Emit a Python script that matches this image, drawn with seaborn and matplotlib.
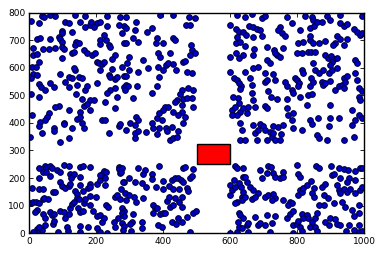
import matplotlib
matplotlib.use("Agg")
import matplotlib.pyplot as plt
from matplotlib.patches import Rectangle
import seaborn as sns
import pandas as pd

# ---- data (x in 0..1000, y in 0..800) ----
upper_left = [
    (37,787),(45,785),(62,791),(77,789),(137,791),(167,789),(232,787),(272,785),
    (4,771),(30,761),(107,767),(119,761),(152,765),(180,755),(184,765),(202,763),(210,765),(232,751),(267,755),(283,751),
    (97,734),(97,725),(127,729),(167,749),(192,747),(222,719),(277,725),
    (24,703),(32,707),(62,703),(87,710),(92,703),(97,695),(140,695),(212,701),(230,701),(283,689),
    (12,670),(40,667),(60,667),(77,670),(97,674),(102,667),(137,683),(147,689),(162,664),(212,686),(237,683),(242,676),
    (12,646),(22,650),(127,652),(132,658),(172,652),(187,646),(257,646),
    (30,619),(97,634),(197,652),(202,622),(207,616),(217,613),(222,622),(247,630),
    (7,602),(20,602),(137,592),(132,598),(212,590),(247,595),(277,604),
    (12,577),(22,574),(92,577),(117,568),(127,562),(147,565),(157,562),(237,574),(242,565),(257,558),(262,565),(282,570),
    (4,562),(30,541),(34,529),(62,544),(107,547),(117,529),(142,538),(167,519),(172,532),(202,544),(242,519),(257,525),(284,529),
    (4,505),(30,493),(47,519),(72,529),(140,505),(157,486),(182,483),(192,483),(232,510),(262,493),
    (87,461),(77,456),(162,461),(172,469),(227,477),
    (60,435),(52,423),(117,445),(152,441),(182,447),(257,453),
    (7,429),(32,405),(102,399),(142,413),(152,423),(217,411),(227,411),(267,387),(272,396),
    (30,387),(47,411),(72,381),(102,396),(127,381),(157,399),(162,381),
]
upper_middle = [
    (290,785),(318,767),(390,791),(428,791),(478,785),(495,782),(468,755),(480,755),
    (288,743),(315,737),(352,731),(365,743),(382,709),(378,689),(400,691),(428,707),(435,701),(310,707),(325,695),(288,689),
    (482,683),(485,664),(495,652),(480,646),
    (298,640),(340,628),(385,652),(420,655),(390,640),(408,610),(415,616),(428,613),(460,619),(465,625),(292,616),(298,592),
    (355,598),(385,604),(400,590),(438,590),(470,586),(485,582),
    (290,571),(325,586),(388,565),(290,538),(295,535),(322,535),(382,532),(285,519),(455,519),(475,525),(488,519),(365,507),(310,489),
    (450,505),(440,483),(460,486),(470,489),(485,489),(435,477),(455,465),(490,459),(405,459),(415,459),(400,447),(430,441),
    (455,441),(380,417),(388,435),(395,411),(445,429),(465,423),(460,399),(320,423),(325,411),(300,399),(315,393),(365,399),
    (370,381),(388,381),(408,381),(425,384),
    (620,791),(600,755),(618,740),(625,731),(638,731),(620,710),(618,689),(630,695),(600,640),(625,634),(618,652),(638,646),
    (600,586),(610,562),(620,556),(625,546),(632,532),(630,522),(608,495),(622,489),(605,447),(615,456),(625,471),(628,441),
    (620,429),(605,429),(630,399),
]
upper_right = [
    (644,785),(664,794),(694,779),(704,787),(769,785),(824,787),(844,785),(889,787),(929,791),(994,787),
    (657,751),(667,749),(681,740),(689,737),(647,719),(749,749),(744,737),(754,725),(764,716),(784,761),(809,737),(839,743),
    (849,751),(847,773),(859,767),(874,767),(897,773),(929,761),(939,751),(949,758),(969,740),(979,731),(987,719),(994,725),
    (669,713),(694,716),(644,679),(671,667),(709,676),(731,664),(739,646),(759,670),(804,689),(819,695),(839,701),(847,689),
    (839,716),(864,691),(884,698),(919,716),(927,704),(914,689),(907,683),(939,683),(949,704),
    (669,646),(709,628),(719,616),(734,655),(749,640),(799,655),(814,655),(834,658),(841,658),(854,658),(847,616),(884,646),
    (891,634),(901,643),(909,630),(919,637),(904,622),(897,610),(974,628),(979,616),
    (644,586),(669,598),(684,604),(704,580),(729,577),(764,550),(794,562),(799,556),(814,592),(819,580),(841,562),(854,590),
    (864,580),(877,592),(894,582),(904,590),(919,598),(939,562),(949,570),(974,580),(979,556),
    (659,562),(664,538),(704,550),(709,556),(734,556),(769,532),(784,519),(789,510),(807,544),(804,532),(809,495),(839,532),
    (847,550),(874,550),(877,538),(884,546),(899,553),(914,519),(924,532),(934,538),(939,525),(944,550),(984,525),(994,516),
    (664,507),(669,483),(714,516),(721,495),(739,486),(769,486),(834,501),(844,504),(984,495),(989,483),
    (639,453),(654,459),(674,456),(704,461),(709,453),(769,453),(774,429),(789,435),(829,465),(899,465),(964,447),(984,429),
    (994,417),(651,435),
    (669,393),(689,396),(699,387),(729,387),(744,384),(759,393),(784,411),(789,381),(839,409),(844,396),(861,417),(894,387),
    (897,417),(924,417),(964,393),(974,411),
]
lower_left = [
    (2,350),(37,365),(72,370),(90,332),(117,346),(237,365),
    (30,235),(47,245),(50,235),(62,245),(67,237),(102,247),(117,245),(150,241),(160,245),(180,241),(267,241),
    (30,201),(40,223),(50,223),(62,208),(82,229),(92,223),(122,213),(127,208),(134,213),(124,199),(152,205),
    (7,165),(30,162),(40,160),(70,148),(77,148),(92,187),(97,172),(107,165),(117,172),(122,177),(137,153),(142,141),
    (152,175),(160,153),(174,165),(180,177),(182,168),(202,177),(212,193),(220,217),(224,225),(230,223),(212,211),(227,199),
    (227,175),(267,233),(272,220),(282,184),(274,162),
    (2,108),(12,112),(20,114),(30,108),(40,124),(44,129),(57,124),(22,84),(17,76),(40,68),(47,56),(62,76),(67,66),(72,68),
    (90,80),(102,76),(107,56),(117,68),(122,92),(127,105),(134,112),(142,129),(147,124),(144,90),(152,76),(160,80),(164,108),
    (167,124),(180,136),(200,132),(182,104),(190,80),(202,63),(210,66),(217,42),(224,56),(230,102),(234,96),(257,132),
    (262,138),(272,124),(277,92),(282,80),(264,56),(257,24),(277,36),(284,27),
    (22,15),(30,8),(37,11),(12,3),(30,24),(47,30),(70,32),(72,44),(84,6),(112,24),(114,8),(152,27),(150,3),(174,24),
    (202,18),(212,3),(232,0),(254,42),
]
lower_middle = [
    (290,374),(315,365),(325,370),(348,368),(412,370),(445,370),(420,338),(430,344),(440,350),(315,344),(380,358),
    (635,374),(630,338),
    (278,235),(275,223),(325,237),(345,229),(340,213),(365,213),(388,245),(398,189),(280,184),(298,199),(315,187),(335,181),
    (348,169),(365,196),(378,169),(400,160),(418,172),(425,193),(435,201),(445,199),(458,237),(465,241),(480,201),(485,208),
    (490,233),(452,193),(460,187),(430,162),(448,162),(470,165),(475,153),
    (285,144),(298,138),(288,120),(312,132),(320,112),(340,129),(368,104),(375,90),(370,75),(382,92),(390,68),(398,72),
    (410,116),(418,132),(420,96),(430,102),(448,112),(455,132),(435,126),(455,96),(490,75),(498,80),(470,60),(445,54),
    (425,42),(438,32),(455,39),(278,75),(282,63),(310,68),(308,42),(302,32),(335,42),(335,20),(280,12),(305,8),(385,30),
    (395,24),(405,75),(480,6),
    (600,0),(620,6),(625,24),(622,42),(625,72),(630,66),(635,18),(615,245),(620,235),(610,193),(600,175),(605,156),(615,169),
    (625,181),(632,169),(620,112),(638,205),(600,138),(615,108),(635,132),
]
lower_right = [
    (674,365),(684,374),(704,374),(719,368),(644,338),(679,338),(711,338),(724,350),(734,338),(749,338),(814,374),(859,356),
    (864,346),(889,338),(939,338),(969,350),(751,358),(729,362),
    (639,237),(644,205),(689,229),(694,201),(714,245),(721,241),(709,217),(729,220),(734,205),(749,201),(757,223),(759,205),
    (799,249),(804,213),(809,205),(857,245),(864,237),(901,245),(924,237),(941,233),(951,229),(974,225),(989,237),(994,235),
    (904,211),(909,213),(929,199),(954,201),(974,193),(949,184),
    (649,187),(659,168),(669,156),(684,144),(637,150),(634,120),(644,132),(664,124),(674,132),(704,132),(714,138),(729,141),
    (734,126),(724,120),(759,120),(779,114),(774,102),(784,108),(809,156),(804,138),(814,150),(819,165),(841,189),(849,165),
    (844,144),(851,132),(829,175),(874,168),(884,177),(864,102),(879,102),(879,138),(891,126),(919,175),(924,156),(929,144),
    (939,162),(949,150),(959,162),(974,144),(989,156),(994,168),(984,102),(964,84),(944,96),(934,112),(909,108),
    (639,56),(649,30),(654,36),(674,60),(684,30),(689,36),(704,30),(719,6),(724,36),(734,63),(709,66),(769,54),(779,68),
    (789,80),(789,30),(799,32),(804,44),(809,24),(814,8),(814,68),(819,54),(829,66),(834,54),(844,42),(854,56),(859,72),
    (839,24),(854,24),(859,8),(884,42),(894,30),(899,56),(914,51),(919,32),(929,30),(947,8),(954,30),(969,12),(984,30),
    (984,3),(994,8),(969,63),(984,72),(654,6),(789,0),
]
obstacle_xy = (500, 250)
obstacle_w = 100
obstacle_h = 75
x_ticks = [0, 200, 400, 600, 800, 1000]
y_ticks = [0, 100, 200, 300, 400, 500, 600, 700, 800]

points = upper_left + upper_middle + upper_right + lower_left + lower_middle + lower_right
df = pd.DataFrame(points, columns=["x", "y"])

sns.set_style("white")
plt.rcParams["font.family"] = ["DejaVu Sans"]

fig = plt.figure(figsize=(3.82, 2.56), dpi=100)
ax = fig.add_axes([0.077, 0.089, 0.876, 0.862])

sns.scatterplot(data=df, x="x", y="y", ax=ax, s=17, color="#0000c8",
                edgecolor="#000033", linewidth=0.7, legend=False, zorder=2)
ax.add_patch(Rectangle(obstacle_xy, obstacle_w, obstacle_h, facecolor="red",
                       edgecolor="black", linewidth=1.0, zorder=3))

ax.set_xlim(0, 1000)
ax.set_ylim(0, 800)
ax.set_xticks(x_ticks)
ax.set_yticks(y_ticks)
ax.set_xlabel("")
ax.set_ylabel("")
ax.tick_params(direction="in", length=3, width=0.6, labelsize=6.5, pad=3,
               top=True, right=True, bottom=True, left=True, colors="black")
for sp in ax.spines.values():
    sp.set_visible(True)
    sp.set_color("black")
    sp.set_linewidth(1.0)

fig.savefig("out.png", dpi=100, facecolor="white")
